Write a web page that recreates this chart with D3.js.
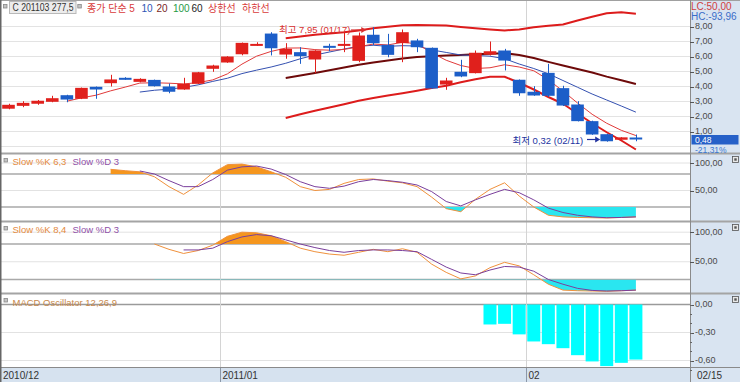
<!DOCTYPE html>
<html><head><meta charset="utf-8">
<script src="https://cdn.jsdelivr.net/npm/d3@7"></script>
<style>
body{margin:0;background:#fff;}
svg{display:block;font-family:'Liberation Sans','Noto Sans CJK KR',sans-serif;}
</style>
</head><body>
<svg id="c" width="740" height="382"></svg>
<script>
// ---------------- DATA ----------------
const dates = ["12/10","12/13","12/14","12/15","12/16","12/17","12/20","12/21","12/22","12/23","12/24","12/27","12/28","12/29","12/30",
"01/03","01/04","01/05","01/06","01/07","01/10","01/11","01/12","01/13","01/14","01/17","01/18","01/19","01/20","01/21","01/24","01/25","01/26","01/27","01/28","01/31",
"02/01","02/07","02/08","02/09","02/10","02/11","02/14","02/15"];
const open  = [2.52,2.71,2.85,2.98,3.42,3.18,3.98,4.22,4.58,4.31,4.44,4.00,3.80,4.18,5.18,5.60,6.15,6.71,7.53,6.13,6.29,5.80,6.71,6.73,5.71,7.45,6.78,6.89,7.07,6.58,4.13,4.98,4.89,6.13,6.40,4.45,3.65,4.91,3.89,2.80,1.69,0.82,0.45,0.60];
const high  = [2.85,3.02,3.10,3.38,3.45,3.93,4.00,4.78,4.62,4.55,4.46,4.20,4.58,4.97,5.45,6.02,6.93,6.95,7.62,6.89,6.62,6.42,6.85,7.58,7.60,7.95,7.51,7.80,7.18,6.60,4.58,5.78,6.40,7.00,6.51,4.47,4.02,5.51,4.05,3.02,1.72,0.85,0.62,0.80];
const low   = [2.48,2.62,2.78,2.95,2.95,3.16,3.18,4.00,4.45,4.28,4.00,3.55,3.78,4.16,4.98,5.58,6.08,6.70,6.07,5.85,5.51,4.89,6.35,6.29,5.62,6.75,5.95,5.62,6.29,3.85,3.78,4.62,4.87,6.07,5.07,3.38,3.38,3.30,2.70,1.67,0.78,0.32,0.44,0.35];
const close = [2.78,2.91,3.05,3.22,3.13,3.91,3.80,4.47,4.47,4.51,4.02,3.65,4.18,4.95,5.40,6.00,6.91,6.84,6.55,6.51,6.02,6.40,6.60,6.84,7.40,6.89,6.11,7.62,6.62,3.87,4.40,4.67,6.25,6.35,5.73,3.55,3.40,3.38,2.73,1.69,0.80,0.35,0.61,0.48];

const pad = n => Array(n).fill(null);
const ma5  = pad(4).concat([3.02,3.24,3.42,3.71,3.96,4.23,4.25,4.22,4.17,4.26,4.44,4.84,5.49,6.02,6.34,6.56,6.57,6.46,6.42,6.47,6.65,6.83,6.77,6.95,6.85,6.25,5.75,5.40,5.20,5.25,5.45,5.30,5.05,4.45,3.70,2.90,2.15,1.55,1.08,0.73]);
const ma10 = pad(9).concat([3.63,3.75,3.82,3.94,4.11,4.34,4.55,4.86,5.09,5.30,5.55,5.85,6.10,6.30,6.50,6.68,6.75,6.68,6.72,6.70,6.44,6.27,6.10,6.07,6.02,5.85,5.50,5.20,4.85,4.40,3.95,3.50,3.10,2.70,2.29]);
const ma20 = pad(19).concat([4.56,4.73,4.90,5.08,5.26,5.45,5.60,5.74,5.87,5.97,6.02,6.06,6.10,6.15,6.19,6.22,6.10,5.90,5.64,5.40,5.17,4.93,4.66,4.42,4.17]);
const bbUpper = pad(19).concat([7.22,7.33,7.45,7.54,7.62,7.74,7.88,7.98,8.08,8.10,8.09,8.06,7.97,7.88,7.80,7.74,7.80,7.95,8.05,8.13,8.40,8.65,8.88,8.95,8.85]);
const bbLower = pad(19).concat([1.90,2.15,2.38,2.60,2.82,3.05,3.24,3.40,3.55,3.72,3.90,4.05,4.28,4.48,4.65,4.65,4.25,3.80,3.30,2.85,2.20,1.55,0.95,0.40,-0.20]);

const stoK1 = pad(7).concat([88.5,86,84,75,57,43,60,82,97,98,93,84,74,57,50,52,63,70,71,67,64,57,38,17,11.5,34,52,64,40,20,5,2,1,0.5,0,1,2]);
const stoD1 = pad(9).concat([85.5,80,68,57,57,70,87,93,94.5,89,79,66,57,54,58,66,70,68,65,60,48,30,22,33,43,52,46,33,18,10,5,2,0.5,1,2]);
const stoK2 = pad(10).concat([80,71,64,69,78,93,100,99,94,84,73,67,63,61,66,71,67,72,66,46,32,21,26,40,49,43,28,12,2,1,0.5,0,1,2]);
const stoD2 = pad(12).concat([70,70,73,84,92,96,94,87,80,74,69,66,69,70,70,69,67,54,41,31,28,36,42,41,34,20,12,5,1.5,0.5,1,2]);
const macdOsc = pad(33).concat([-0.214,-0.207,-0.32,-0.396,-0.425,-0.468,-0.543,-0.61,-0.66,-0.625,-0.59]);

const priceTicks = [1,2,3,4,5,6,7,8];
const priceGrid = [0,1,2,3,4,5,6,7,8];
const stoTicks = [100,50];
const macdTicks = [0,-0.3,-0.6];
const monthTicks = [{d:"12/10",label:"2010/12"},{d:"01/03",label:"2011/01"},{d:"02/01",label:"02"}];
const lastLabel = "02/15";

// ---------------- CHART ----------------
const svg = d3.select('#c');
const R = 690; // right edge of plot
const x = d3.scalePoint().domain(dates).range([8.5, 635.9]);
const step = x.step();
const yP = d3.scaleLinear().domain([0,8]).range([146.5,26.5]);
const yS1 = d3.scaleLinear().domain([0,100]).range([218,163]);
const yS2 = d3.scaleLinear().domain([0,100]).range([291.3,232.2]);
const yM = d3.scaleLinear().domain([-0.6,0]).range([360.5,304.5]);
const fmt = v => d3.format(".2f")(v).replace(".", ",").replace("−","-");

// right axis panel bg
svg.append('rect').attr('x',R).attr('y',0).attr('width',740-R).attr('height',382).attr('fill','#d9e4f1');
// x axis bar
svg.append('rect').attr('x',0).attr('y',367).attr('width',R).attr('height',15).attr('fill','#d6e2ef');

const defs = svg.append('defs');
function clip(id,y0,y1){ defs.append('clipPath').attr('id',id).append('rect').attr('x',1).attr('y',y0).attr('width',R-1).attr('height',y1-y0); return `url(#${id})`; }
const cMain = clip('cm',1,152.5);

// gridlines main
svg.append('g').selectAll('line').data(priceGrid).join('line')
  .attr('x1',1).attr('x2',R).attr('y1',d=>yP(d)).attr('y2',d=>yP(d)).attr('stroke','#e3e3e3');
// stoch grids
function stoGrid(ys){
  const g = svg.append('g');
  g.selectAll('l1').data([100,50]).join('line').attr('x1',1).attr('x2',R).attr('y1',d=>ys(d)).attr('y2',d=>ys(d)).attr('stroke','#e2e2e2');
  g.selectAll('l2').data([80,20]).join('line').attr('x1',1).attr('x2',R).attr('y1',d=>ys(d)).attr('y2',d=>ys(d)).attr('stroke','#a9a9a9').attr('stroke-width',1.5);
}
stoGrid(yS1); stoGrid(yS2);
svg.append('g').selectAll('line').data(macdTicks).join('line')
  .attr('x1',1).attr('x2',R).attr('y1',d=>yM(d)).attr('y2',d=>yM(d))
  .attr('stroke',d=>d===0?'#9a9a9a':'#e2e2e2').attr('stroke-width',d=>d===0?1.3:1);

// month vertical lines
const mx = d => Math.round(x(d) - step/2) + 0.5;
svg.append('g').selectAll('line').data(monthTicks.slice(1)).join('line')
  .attr('x1',d=>mx(d.d)).attr('x2',d=>mx(d.d)).attr('y1',1).attr('y2',367).attr('stroke','#d4d4d4');
svg.append('g').selectAll('line').data(monthTicks.slice(1)).join('line')
  .attr('x1',d=>mx(d.d)).attr('x2',d=>mx(d.d)).attr('y1',367).attr('y2',382).attr('stroke','#8c98a8');

// lines helper
function drawLine(data, ys, color, w, clipUrl){
  const ln = d3.line().defined(d=>d!=null).x((d,i)=>x(dates[i])).y(d=>ys(d));
  svg.append('path').attr('d',ln(data)).attr('fill','none').attr('stroke',color).attr('stroke-width',w)
    .attr('clip-path',clipUrl||null).attr('stroke-linejoin','round');
}

// Bollinger + MAs
drawLine(bbUpper, yP, '#dd1c1c', 2, cMain);
drawLine(bbLower, yP, '#dd1c1c', 2, cMain);
drawLine(ma20, yP, '#6e0a0a', 2, cMain);
drawLine(ma10, yP, '#3450b0', 1, cMain);
drawLine(ma5, yP, '#e03a3a', 1, cMain);

// candles
const cw = 12.6;
const cg = svg.append('g').attr('clip-path',cMain);
dates.forEach((d,i)=>{
  const up = close[i] >= open[i];
  const col = up ? '#e0201c' : '#1c5ec8';
  const xc = Math.round(x(d));
  cg.append('line').attr('x1',xc+0.5).attr('x2',xc+0.5).attr('y1',yP(high[i])).attr('y2',yP(low[i])).attr('stroke',col);
  const yt = yP(Math.max(open[i],close[i])), yb = yP(Math.min(open[i],close[i]));
  cg.append('rect').attr('x',x(d)-cw/2).attr('y',yt).attr('width',cw).attr('height',Math.max(2,yb-yt)).attr('fill',col);
});

// stochastic fills + lines
function stoch(K, D, ys, top, bot, id){
  const ar = (lvl) => d3.area().defined(d=>d!=null).x((d,i)=>x(dates[i])).y0(ys(lvl)).y1(d=>ys(d));
  const cu = clip(id+'u', top, ys(80));
  const cd = clip(id+'d', ys(20), bot);
  svg.append('path').attr('d',ar(80)(K)).attr('fill','#f5961e').attr('clip-path',cu);
  svg.append('path').attr('d',ar(20)(K)).attr('fill','#2ae6f0').attr('clip-path',cd);
  drawLine(K, ys, '#f0913c', 1);
  drawLine(D, ys, '#7a3f9c', 1);
}
stoch(stoK1, stoD1, yS1, 154, 220, 's1');
stoch(stoK2, stoD2, yS2, 222, 292, 's2');

// MACD bars
svg.append('g').selectAll('rect').data(macdOsc.map((v,i)=>({v,d:dates[i]})).filter(o=>o.v!=null)).join('rect')
  .attr('x',o=>x(o.d)-6.5).attr('width',13).attr('y',yM(0)).attr('height',o=>yM(o.v)-yM(0)).attr('fill','#00ffff');

// panel separators / borders
[153.5,221.5,293.5].forEach(y=>svg.append('line').attr('x1',0).attr('x2',740).attr('y1',y).attr('y2',y).attr('stroke','#a4a4a4').attr('stroke-width',2));
svg.append('line').attr('x1',0).attr('x2',740).attr('y1',367.5).attr('y2',367.5).attr('stroke','#8a8a8a');
svg.append('line').attr('x1',0).attr('x2',740).attr('y1',0.5).attr('y2',0.5).attr('stroke','#a0a0a0');
svg.append('line').attr('x1',0.75).attr('x2',0.75).attr('y1',0).attr('y2',382).attr('stroke','#666').attr('stroke-width',1.5);
svg.append('line').attr('x1',R+0.5).attr('x2',R+0.5).attr('y1',0).attr('y2',382).attr('stroke','#8a8a8a');

// right axis ticks/labels
function axisLabels(ticks, ys, f){
  const g = svg.append('g');
  g.selectAll('line').data(ticks).join('line').attr('x1',R).attr('x2',R+4).attr('y1',d=>Math.round(ys(d))+0.5).attr('y2',d=>Math.round(ys(d))+0.5).attr('stroke','#555');
  g.selectAll('text').data(ticks).join('text').attr('x',R+5).attr('y',d=>ys(d)).attr('dy','0.3em')
    .attr('font-size',9).attr('fill','#4a4a4a').text(f);
}
axisLabels(priceTicks, yP, fmt);
axisLabels(stoTicks, yS1, fmt);
axisLabels(stoTicks, yS2, fmt);
axisLabels(macdTicks, yM, fmt);
// minor macd ticks
svg.append('g').selectAll('line').data(d3.range(0,8).map(k=>-k*0.1)).join('line')
  .attr('x1',R).attr('x2',R+2).attr('y1',d=>Math.round(yM(d))+0.5).attr('y2',d=>Math.round(yM(d))+0.5).attr('stroke','#666');

// LC / HC / last price
svg.append('text').attr('x',691).attr('y',10).attr('font-size',10).attr('fill','#d04040').text('LC:50,00');
svg.append('text').attr('x',691).attr('y',19.5).attr('font-size',10).attr('fill','#3a6cc8').text('HC:-93,96');
svg.append('rect').attr('x',691.5).attr('y',135).attr('width',47).attr('height',9.5).attr('fill','#2660c8');
svg.append('text').attr('x',695).attr('y',143.2).attr('font-size',8.5).attr('fill','#fff').text(fmt(close[43]));
svg.append('text').attr('x',695).attr('y',153.4).attr('font-size',8.5).attr('fill','#3a78d0')
  .text(d3.format(".2f")((close[43]/close[42]-1)*100).replace('.',',').replace('−','-')+'%');

// x labels
svg.append('g').selectAll('text').data(monthTicks).join('text')
  .attr('x',(d,i)=> i===0 ? 3 : mx(d.d)+2).attr('y',378.5).attr('font-size',10).attr('fill','#333').text(d=>d.label);
svg.append('text').attr('x',697).attr('y',378.5).attr('font-size',10).attr('fill','#333').text(lastLabel);

// bullets
function bullet(bx,by){ svg.append('rect').attr('x',bx).attr('y',by).attr('width',3.5).attr('height',3.5).attr('fill','#c4c4c4').attr('stroke','#888').attr('stroke-width',0.8); }
bullet(3.5,4.5); bullet(77.8,4.5); bullet(4,158.5); bullet(4,226.5); bullet(4,298.5);
function closeIcon(bx,by){
  svg.append('rect').attr('x',bx).attr('y',by).attr('width',6).attr('height',6).attr('fill','#e8e8e8').attr('stroke','#555').attr('stroke-width',0.8);
  svg.append('rect').attr('x',bx+1.8).attr('y',by+1.8).attr('width',2.4).attr('height',2.4).attr('fill','#555');
}
closeIcon(732.5,156.5); closeIcon(732.5,224.5); closeIcon(732.5,296.5);

// header
svg.append('rect').attr('x',9.5).attr('y',1.5).attr('width',66.5).attr('height',12).attr('fill','#ececec').attr('stroke','#b9b9b9');
svg.append('text').attr('x',12.5).attr('y',11.3).attr('font-size',10).attr('fill','#333')
  .attr('textLength',61).attr('lengthAdjust','spacingAndGlyphs').text('C 201103 277,5');
const legend = [
  {t:'종가 단순 5', x:87, c:'#d83a3a'},
  {t:'10', x:141.5, c:'#2f55b5'},
  {t:'20', x:156.5, c:'#7a1f1f'},
  {t:'100', x:173, c:'#1f9a45'},
  {t:'60', x:191.5, c:'#222'},
  {t:'상한선', x:208, c:'#d83a3a'},
  {t:'하한선', x:242, c:'#d83a3a'}
];
svg.append('g').selectAll('text').data(legend).join('text').attr('x',d=>d.x).attr('y',11.5).attr('font-size',10).attr('fill',d=>d.c).text(d=>d.t);

// panel titles
function title(y, parts){
  svg.append('g').selectAll('text').data(parts).join('text').attr('x',d=>d.x).attr('y',y).attr('font-size',9.5).attr('fill',d=>d.c).text(d=>d.t);
}
title(164.5,[{t:'Slow %K 6,3',x:12.5,c:'#e58a3c'},{t:'Slow %D 3',x:72.5,c:'#9050a8'}]);
title(232.5,[{t:'Slow %K 8,4',x:12.5,c:'#e58a3c'},{t:'Slow %D 3',x:72.5,c:'#9050a8'}]);
title(306,[{t:'MACD Oscillator 12,26,9',x:12.5,c:'#c8884a'}]);

// annotations
const hiIdx = high.indexOf(d3.max(high)), loIdx = low.indexOf(d3.min(low));
function arrow(x1,x2,y,col){
  svg.append('line').attr('x1',x1).attr('x2',x2-3).attr('y1',y).attr('y2',y).attr('stroke',col).attr('stroke-width',1.2);
  svg.append('path').attr('d',`M${x2},${y} L${x2-5},${y-3} L${x2-5},${y+3} Z`).attr('fill',col);
}
svg.append('text').attr('x',279).attr('y',33).attr('font-size',9.5).attr('fill','#d83030')
  .text(`최고 ${fmt(high[hiIdx])} (${dates[hiIdx]})`);
arrow(351, x(dates[hiIdx]) - 7, 30, '#d83030');
svg.append('text').attr('x',512.5).attr('y',143.5).attr('font-size',9.5).attr('fill','#2233a0')
  .text(`최저 ${fmt(low[loIdx])} (${dates[loIdx]})`);
arrow(587, x(dates[loIdx]) - 6.5, 139.5, '#2233a0');
</script>
</body></html>
